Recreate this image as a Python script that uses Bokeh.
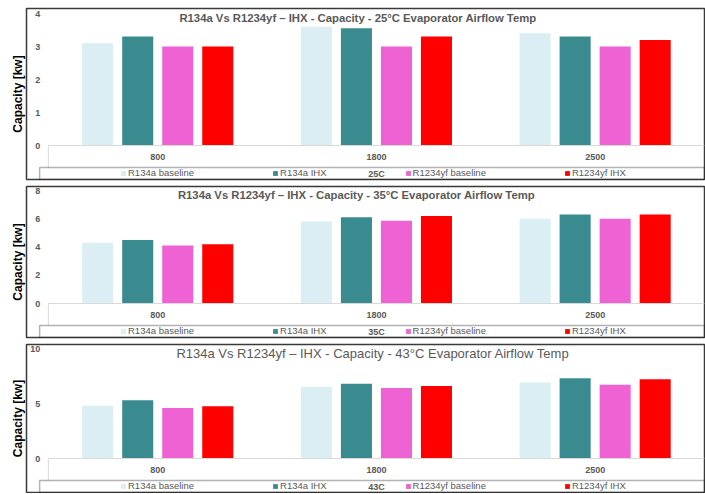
from bokeh.plotting import figure
from bokeh.models import (Range1d, FixedTicker, ColumnDataSource, Legend, LegendItem,
                          Label, BoxAnnotation, LinearAxis)
from bokeh.layouts import column
from bokeh.transform import dodge
from bokeh.embed import file_html
from bokeh.resources import INLINE

# ---------------- data ----------------
speeds = ["800", "1800", "2500"]
series = ["R134a baseline", "R134a IHX", "R1234yf baseline", "R1234yf IHX"]
colors = ["#DAEEF3", "#3A8B90", "#EE62D3", "#FF0000"]

r134a_base_25 = [3.1, 3.6, 3.4]
r134a_ihx_25 = [3.3, 3.55, 3.3]
r1234yf_base_25 = [3.0, 3.0, 3.0]
r1234yf_ihx_25 = [3.0, 3.3, 3.2]

r134a_base_35 = [4.3, 5.8, 6.0]
r134a_ihx_35 = [4.5, 6.1, 6.3]
r1234yf_base_35 = [4.1, 5.85, 6.0]
r1234yf_ihx_35 = [4.2, 6.2, 6.3]

r134a_base_43 = [4.8, 6.5, 6.9]
r134a_ihx_43 = [5.3, 6.8, 7.3]
r1234yf_base_43 = [4.6, 6.4, 6.7]
r1234yf_ihx_43 = [4.75, 6.6, 7.2]

titles = [
    "R134a Vs R1234yf \u2013 IHX - Capacity - 25\u00b0C Evaporator Airflow Temp",
    "R134a Vs R1234yf \u2013 IHX - Capacity - 35\u00b0C Evaporator Airflow Temp",
    "R134a Vs R1234yf \u2013 IHX - Capacity - 43\u00b0C Evaporator Airflow Temp",
]
temp_labels = ["25C", "35C", "43C"]
y_ticks = [[0, 1, 2, 3, 4], [0, 2, 4, 6, 8], [0, 5, 10]]
y_max = [4, 8, 10]
y_title = "Capacity [kw]"

# ---------------- layout constants ----------------
FONT = "Liberation Sans"
GRAY = "#595959"
W = 705
LEFT = 26
RIGHT = 1
BAR_W = 0.142
BAR_STEP = 0.183


def make_panel(vals, title, tlabel, ticks, ymax, frame_h, top_px, bottom_px,
               b_top, b_bot, t_size, t_style, t_x, t_below_top):
    data_px = frame_h - top_px - bottom_px
    ppu = data_px / ymax
    y0 = -bottom_px / ppu
    y1 = ymax + top_px / ppu
    H = b_top + frame_h + b_bot
    p = figure(width=W, height=H, title=None,
               x_range=Range1d(-0.1, len(speeds)), y_range=Range1d(y0, y1),
               output_backend="svg", toolbar_location=None,
               x_axis_location=None, y_axis_location="left",
               min_border_left=LEFT, min_border_right=RIGHT,
               min_border_top=b_top, min_border_bottom=b_bot,
               background_fill_color="white", border_fill_color="white")
    p.xgrid.visible = False
    p.ygrid.visible = False
    p.outline_line_color = "#3A3A3A"
    p.outline_line_width = 1.5

    # y axis title only (default left axis)
    ya = p.yaxis[0]
    ya.ticker = FixedTicker(ticks=[])
    ya.axis_line_color = None
    ya.major_tick_line_color = None
    ya.minor_tick_line_color = None
    ya.major_tick_out = 0
    ya.major_tick_in = 0
    ya.minor_tick_out = 0
    ya.major_label_standoff = 0
    ya.axis_label = y_title
    ya.axis_label_standoff = 2
    ya.axis_label_text_font = FONT
    ya.axis_label_text_font_size = "12px"
    ya.axis_label_text_font_style = "bold"
    ya.axis_label_text_color = "black"

    # y tick labels inside the border
    yt = LinearAxis(fixed_location=0, ticker=FixedTicker(ticks=ticks),
                    axis_line_color=None, major_tick_line_color=None,
                    minor_tick_line_color=None, major_tick_out=0, major_tick_in=0,
                    minor_tick_out=0, major_label_standoff=8,
                    major_label_text_font=FONT, major_label_text_font_size="9px",
                    major_label_text_font_style="bold", major_label_text_color=GRAY)
    p.add_layout(yt, "left")

    # category axis at zero
    centers = [i + 0.5 for i in range(len(speeds))]
    xa = LinearAxis(fixed_location=0, bounds=(0, len(speeds)),
                    ticker=FixedTicker(ticks=centers),
                    major_label_overrides={c: s for c, s in zip(centers, speeds)},
                    axis_line_color="#D9D9D9", axis_line_width=1,
                    major_tick_line_color=None, minor_tick_line_color=None,
                    major_tick_out=0, major_tick_in=0, minor_tick_out=0,
                    major_label_standoff=8, major_label_text_font=FONT,
                    major_label_text_font_size="9px", major_label_text_font_style="bold",
                    major_label_text_color=GRAY,
                    axis_label=tlabel, axis_label_standoff=6,
                    axis_label_text_font=FONT, axis_label_text_font_size="9px",
                    axis_label_text_font_style="bold", axis_label_text_color=GRAY)
    p.add_layout(xa, "below")

    src = ColumnDataSource(dict(x=centers, s0=vals[0], s1=vals[1], s2=vals[2], s3=vals[3]))
    items = []
    for j in range(len(series)):
        off = (j - 1.5) * BAR_STEP
        r = p.vbar(x=dodge("x", off, range=p.x_range), top="s%d" % j, width=BAR_W,
                   bottom=0, source=src, fill_color=colors[j], line_color=None)
        items.append(LegendItem(label=series[j], renderers=[r]))

    # data-table left edge
    leg_top = -22 / ppu
    p.segment(x0=[0], y0=[0], x1=[0], y1=[leg_top], line_color="#D9D9D9", line_width=1)

    # legend box
    p.add_layout(BoxAnnotation(left=-0.04, right=len(speeds), top=leg_top, bottom=y0,
                               fill_color=None, fill_alpha=0, line_color="black",
                               line_width=1.5))

    leg = Legend(items=items, location=(94, 1), orientation="horizontal",
                 spacing=78, padding=0, margin=0, glyph_width=6, glyph_height=6,
                 label_height=10, label_standoff=2, label_text_font=FONT,
                 label_text_font_size="9.5px", label_text_color=GRAY,
                 border_line_color=None, background_fill_alpha=0)
    p.add_layout(leg, "center")

    # title inside the frame (screen units are frame-relative)
    p.add_layout(Label(x=t_x - LEFT, y=frame_h - t_below_top, x_units="screen",
                       y_units="screen", text=title, text_align="center",
                       text_baseline="middle", text_font=FONT, text_font_size=t_size,
                       text_font_style=t_style, text_color=GRAY))
    return p


p1 = make_panel([r134a_base_25, r134a_ihx_25, r1234yf_base_25, r1234yf_ihx_25],
                titles[0], temp_labels[0], y_ticks[0], y_max[0],
                171, 5, 34, 8, 4, "11.3px", "bold", 357.5, 9.5)
p2 = make_panel([r134a_base_35, r134a_ihx_35, r1234yf_base_35, r1234yf_ihx_35],
                titles[1], temp_labels[1], y_ticks[1], y_max[1],
                151, 4, 34, 3, 3, "11.3px", "bold", 356, 8)
p3 = make_panel([r134a_base_43, r134a_ihx_43, r1234yf_base_43, r1234yf_ihx_43],
                titles[2], temp_labels[2], y_ticks[2], y_max[2],
                148, 4, 34, 4, 1, "13px", "normal", 372.5, 9)

layout = column(p1, p2, p3)
open("out.html", "w").write(file_html(layout, INLINE))
